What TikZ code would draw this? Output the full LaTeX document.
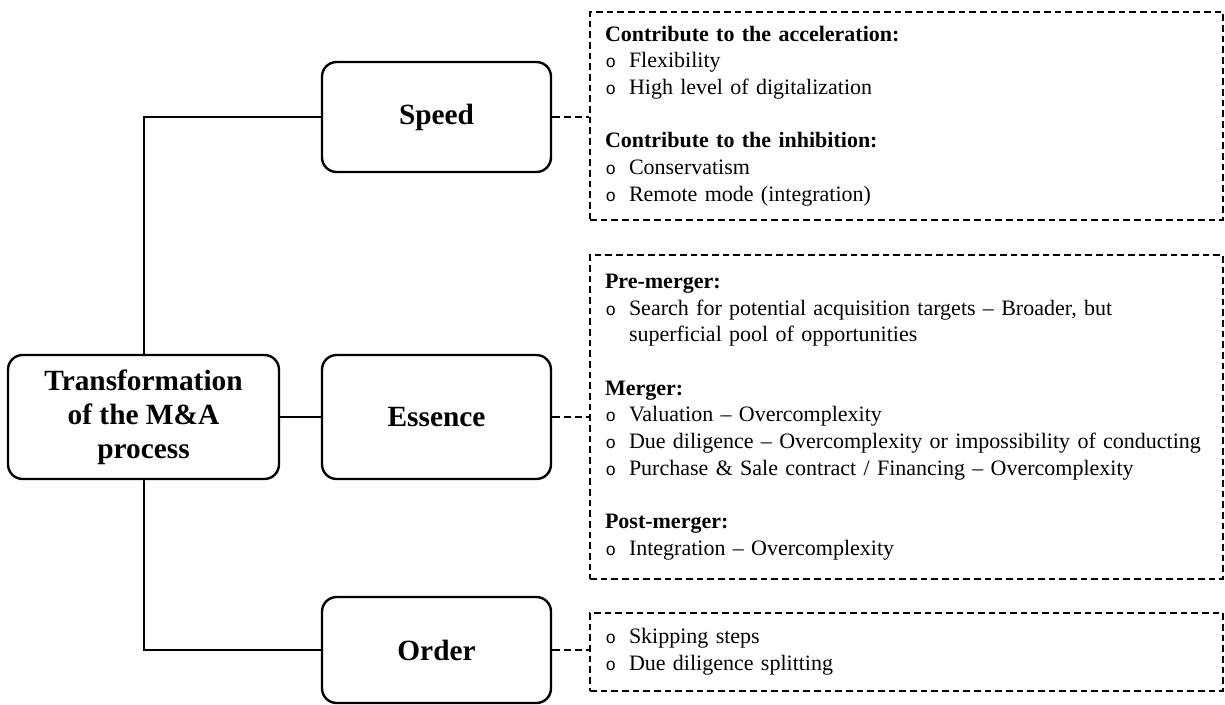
\documentclass[tikz,border=0pt]{standalone}
\usepackage{fontspec}
\setmainfont{Liberation Serif}
\newfontfamily\bulletfont{Liberation Mono}
\usetikzlibrary{positioning}

\newcommand{\bul}{\makebox[18pt][l]{\hspace{0.5pt}\bulletfont\fontsize{13}{20}\selectfont o}}

\begin{document}
\begin{tikzpicture}[x=0.75pt,y=-0.75pt,
    topic/.style={draw,rounded corners=11pt,line width=1.8pt,align=center,
      font=\fontsize{22}{25.5}\selectfont\bfseries,
      minimum width=171.75pt,minimum height=82.5pt},
    detail/.style={draw,line width=1.2pt,dash pattern=on 5pt off 3pt,
      text width=452.25pt,align=left,inner xsep=11.25pt,inner ysep=0pt,
      font=\fontsize{16.5}{20}\selectfont},
    link/.style={line width=1.5pt},
    dlink/.style={line width=1.2pt,dash pattern=on 5.5pt off 3pt}]

  \useasboundingbox (0,0) rectangle (1225,704);

  \node[topic,minimum width=203.25pt,minimum height=93pt] (main) at (143.5,417)
    {Transformation\\of the M\&A\\process};
  \node[topic]                      (speed)   at (436.5,117) {Speed};
  \node[topic,minimum height=93pt]  (essence) at (436.5,417) {Essence};
  \node[topic,minimum height=79.5pt] (order)  at (436.5,650) {Order};

  \node[detail,minimum height=156pt] (speedinfo) at (906.5,116)
    {\textbf{Contribute to the acceleration:}\\
     \bul Flexibility\\
     \bul High level of digitalization\\[20pt]
     \textbf{Contribute to the inhibition:}\\
     \bul Conservatism\\
     \bul Remote mode (integration)};
  \node[detail,minimum height=243pt] (essenceinfo) at (906.5,417)
    {\textbf{Pre-merger:}\\
     \bul Search for potential acquisition targets – Broader, but\\
     \hspace*{18pt}superficial pool of opportunities\\[20pt]
     \textbf{Merger:}\\
     \bul Valuation – Overcomplexity\\
     \bul Due diligence – Overcomplexity or impossibility of conducting\\
     \bul Purchase \& Sale contract / Financing – Overcomplexity\\[20pt]
     \textbf{Post-merger:}\\
     \bul Integration – Overcomplexity};
  \node[detail,minimum height=58.5pt] (orderinfo) at (906.5,652)
    {\bul Skipping steps\\
     \bul Due diligence splitting};

  \draw[link] (main.north) |- (speed.west);
  \draw[link] (main) -- (essence);
  \draw[link] (main.south) |- (order.west);

  \draw[dlink] (speed.east) -- (speed.east -| speedinfo.west);
  \draw[dlink] (essence.east) -- (essence.east -| essenceinfo.west);
  \draw[dlink] (order.east) -- (order.east -| orderinfo.west);
\end{tikzpicture}
\end{document}
